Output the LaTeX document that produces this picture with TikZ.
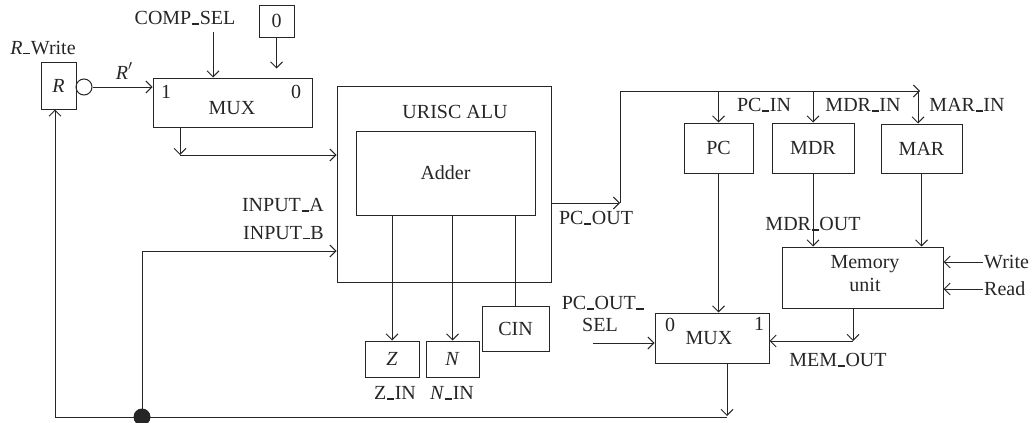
\documentclass[tikz,border=0pt]{standalone}
\usepackage{fontspec}
\setmainfont{Liberation Serif}
\usetikzlibrary{arrows.meta,calc}
\definecolor{ink}{HTML}{262626}
\newcommand\us{\kern0.03em\rule{0.36em}{0.06em}\kern0.03em}
\begin{document}
\begin{tikzpicture}[x=1pt,y=-1pt,
  every node/.style={font=\fontsize{20}{23}\selectfont, text=ink},
  blk/.style={draw=ink, line width=1pt, inner sep=0pt},
  wire/.style={draw=ink, line width=1pt},
  arr/.style={wire, -{Straight Barb[length=6pt,width=12pt]}},
  lbl/.style={inner sep=0pt}]
\useasboundingbox (0,0) rectangle (1034,423);
% blocks
\node[blk, minimum width=35pt, minimum height=47pt] (R) at (58.5,85.5) {\textit{R}};
\node[blk, circle, minimum size=16pt] (inv) at (84,87) {};
\node[blk, minimum width=159pt, minimum height=49pt] (mux1) at (232.5,102.5) {};
\node[lbl] (mux1t) at (232,108) {MUX};
\node[lbl] (mux1a) at (166,92) {1};
\node[lbl] (mux1b) at (296,92) {0};
\node[blk, minimum width=35pt, minimum height=32pt] (zero) at (276.5,21) {0};
\node[blk, minimum width=214pt, minimum height=196pt] (alu) at (444,184) {};
\node[lbl] (alut) at (455,112) {URISC ALU};
\node[blk, minimum width=179pt, minimum height=84pt] (adder) at (445.5,173) {Adder};
\node[blk, minimum width=69pt, minimum height=50pt] (pc) at (718.5,148) {PC};
\node[blk, minimum width=82pt, minimum height=50pt] (mdr) at (813,148) {MDR};
\node[blk, minimum width=81pt, minimum height=49pt] (mar) at (921.5,148.5) {MAR};
\node[blk, minimum width=161pt, minimum height=61pt] (mem) at (862.5,277.5) {};
\node[lbl, align=center] (memt) at (865,274) {Memory\\unit};
\node[blk, minimum width=114pt, minimum height=50pt] (mux2) at (712,338) {};
\node[lbl] (mux2t) at (709,338) {MUX};
\node[lbl] (mux2a) at (670,325) {0};
\node[lbl] (mux2b) at (759,324) {1};
\node[blk, minimum width=54pt, minimum height=36pt] (z) at (392,359) {\textit{Z}};
\node[blk, minimum width=53pt, minimum height=36pt] (n) at (452.5,359) {\textit{N}};
\node[blk, minimum width=67pt, minimum height=45pt] (cin) at (515.5,328.5) {CIN};
% labels
\node[lbl] (rw) at (43,48) {\textit{R}\us Write};
\node[lbl] (rp) at (124,71) {\textit{R}\raisebox{0.45em}{\fontsize{14}{14}\selectfont$\prime$}};
\node[lbl] (cs) at (185,18) {COMP\us SEL};
\node[lbl, anchor=east] (ina) at (324,205) {INPUT\us A};
\node[lbl, anchor=east] (inb) at (324,233) {INPUT\us B};
\node[lbl] (pco) at (596,218) {PC\us OUT};
\node[lbl] (pcin) at (764,105) {PC\us IN};
\node[lbl] (mdrin) at (863,105) {MDR\us IN};
\node[lbl] (marin) at (967,105) {MAR\us IN};
\node[lbl] (mdrout) at (813,224) {MDR\us OUT};
\node[lbl] (pcos) at (603,303) {PC\us OUT\us};
\node[lbl] (sell) at (600,325) {SEL};
\node[lbl] (memout) at (838,360) {MEM\us OUT};
\node[lbl] (zin) at (395,393) {Z\us IN};
\node[lbl] (nin) at (452,393) {\textit{N}\us IN};
% coordinates
\coordinate (csa) at (213,32);
\coordinate (m1o) at (180,155);
\coordinate (pcb) at (620,203);
\coordinate (bus) at (620,91);
\coordinate (busend) at (920,91);
\coordinate (mard) at (918,91);
\coordinate (wr) at (983,262);
\coordinate (rd) at (983,289);
\coordinate (mo) at (853,341);
\coordinate (sel) at (593,343);
\coordinate (m2o) at (727,416);
\coordinate (bl) at (55,417);
\coordinate (jn) at (142,417);
\coordinate (ib) at (142,251);
\node[lbl, anchor=west] (wrt) at ([xshift=1pt]wr) {Write};
\node[lbl, anchor=west] (rdt) at ([xshift=1pt]rd) {Read};
% connectors
\draw[arr] (inv.east) -- (mux1.west |- inv.east);
\draw[arr] (csa) -- (csa |- mux1.north);
\draw[arr] (zero.south) -- ++(0,31);
\draw[arr] (mux1.south -| m1o) -- (m1o);
\draw[arr] (m1o) -- (alu.west |- m1o);
\draw[arr] (alu.east |- pcb) -- (pcb);
\draw[arr] (pcb) -- (bus) -- (busend);
\draw[arr] (pc.north |- bus) -- (pc.north);
\draw[arr] (mdr.north |- bus) -- (mdr.north);
\draw[arr] (mard) -- (mard |- mar.north);
\draw[arr] (pc.south) -- (pc.south |- mux2.north);
\draw[arr] (mdr.south) -- (mdr.south |- mem.north);
\draw[arr] (mar.south) -- (mar.south |- mem.north);
\draw[arr] (wr) -- (mem.east |- wr);
\draw[arr] (rd) -- (mem.east |- rd);
\draw[arr] (mem.south -| mo) -- (mo);
\draw[arr] (mo) -- (mux2.east |- mo);
\draw[arr] (sel) -- (mux2.west |- sel);
\draw[arr] (mux2.south -| m2o) -- (m2o);
\draw[wire] (m2o |- bl) -- (bl);
\draw[arr] (bl) -- (bl |- R.south);
\node[circle, fill=ink, minimum size=17pt, inner sep=0pt] (dot) at (jn) {};
\draw[arr] (dot.center) -- (ib) -- (alu.west |- ib);
\draw[arr] (z.north |- adder.south) -- (z.north);
\draw[arr] (n.north |- adder.south) -- (n.north);
\draw[wire] (cin.north |- adder.south) -- (cin.north);
\end{tikzpicture}
\end{document}
